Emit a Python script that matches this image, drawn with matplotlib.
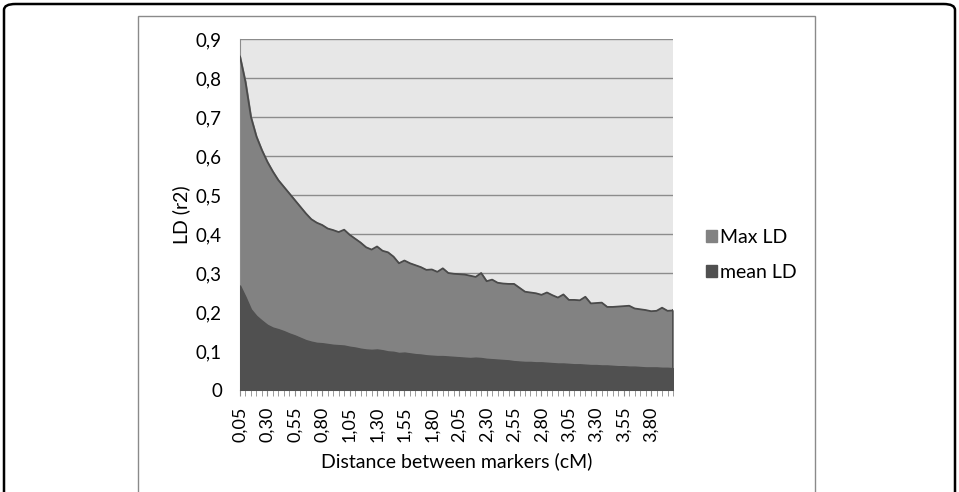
import numpy as np
import matplotlib.pyplot as plt
from matplotlib.patches import FancyBboxPatch, Rectangle

plt.rcParams['font.family'] = ['Lato', 'DejaVu Sans']

# distance between markers (cM), 80 categories
distance = np.arange(1, 81) * 0.05

max_ld = [0.855, 0.79, 0.70, 0.65, 0.615, 0.585, 0.56, 0.538, 0.521, 0.504,
          0.487, 0.47, 0.453, 0.438, 0.429, 0.423, 0.414, 0.41, 0.405, 0.411,
          0.398, 0.388, 0.378, 0.366, 0.36, 0.368, 0.357, 0.353, 0.342, 0.325,
          0.332, 0.325, 0.32, 0.315, 0.308, 0.309, 0.303, 0.312, 0.300, 0.298,
          0.297, 0.296, 0.293, 0.29, 0.30, 0.279, 0.283, 0.275, 0.273, 0.272,
          0.272, 0.262, 0.252, 0.25, 0.248, 0.244, 0.25, 0.243, 0.237, 0.245,
          0.231, 0.231, 0.23, 0.239, 0.222, 0.223, 0.224, 0.213, 0.213, 0.214,
          0.215, 0.216, 0.209, 0.207, 0.205, 0.202, 0.203, 0.211, 0.203, 0.204]

mean_ld = [0.268, 0.239, 0.207, 0.19, 0.178, 0.167, 0.16, 0.156, 0.151, 0.145,
           0.14, 0.134, 0.128, 0.124, 0.121, 0.12, 0.118, 0.116, 0.115, 0.114,
           0.111, 0.109, 0.106, 0.104, 0.103, 0.104, 0.102, 0.099, 0.098, 0.095,
           0.096, 0.094, 0.092, 0.091, 0.089, 0.088, 0.087, 0.087, 0.086, 0.085,
           0.084, 0.083, 0.082, 0.083, 0.082, 0.080, 0.079, 0.078, 0.077, 0.076,
           0.074, 0.073, 0.072, 0.072, 0.071, 0.071, 0.070, 0.069, 0.068, 0.068,
           0.067, 0.066, 0.066, 0.065, 0.064, 0.064, 0.063, 0.063, 0.062, 0.061,
           0.061, 0.060, 0.060, 0.059, 0.058, 0.058, 0.058, 0.057, 0.057, 0.056]

W, H = 959, 492
fig = plt.figure(figsize=(W / 100, H / 100), dpi=100)

# outer rounded frame and inner chart frame
fig.patches.append(FancyBboxPatch((4 / W, -0.2), (W - 8) / W, 1.2 - 4 / H,
                                  boxstyle="round,pad=0,rounding_size=0.012",
                                  transform=fig.transFigure, fill=False,
                                  edgecolor='black', linewidth=1.8))
fig.patches.append(Rectangle((138 / W, -0.1), (815 - 138) / W, 1.1 - 16 / H,
                             transform=fig.transFigure, fill=False,
                             edgecolor='#8a8a8a', linewidth=1.0))

ax = fig.add_axes([240 / W, (H - 390) / H, 433 / W, 351 / H])
ax.set_facecolor('#e7e7e7')

x = np.arange(len(distance))
ax.fill_between(x, max_ld, color='#828282', label='Max LD', zorder=2)
ax.plot(x, max_ld, color='#4a4a4a', linewidth=1.3, zorder=3)
ax.plot([x[-1], x[-1]], [0, max_ld[-1]], color='#4a4a4a', linewidth=1.3, zorder=3)
ax.fill_between(x, mean_ld, color='#505050', label='mean LD', zorder=4)

ax.set_xlim(0, len(x) - 1)
ax.set_ylim(0, 0.9)
ax.set_yticks(np.arange(0, 0.91, 0.1))
ax.set_yticklabels(['0' if v == 0 else f'{v:.1f}'.replace('.', ',')
                    for v in np.arange(0, 0.91, 0.1)], fontsize=13.5)
ax.yaxis.grid(True, color='#8c8c8c', linewidth=1.0, zorder=1)
ax.set_axisbelow(True)
ax.tick_params(axis='y', length=0, pad=13)

ax.set_xticks(x[::5])
ax.set_xticklabels([f'{d:.2f}'.replace('.', ',') for d in distance[::5]],
                   rotation=90, fontsize=13)
ax.set_xticks(x, minor=True)
ax.tick_params(axis='x', which='both', length=4, color='#8c8c8c', direction='out')
ax.tick_params(axis='x', which='major', pad=8)

for s in ['top', 'right']:
    ax.spines[s].set_visible(False)
for s in ['left', 'bottom']:
    ax.spines[s].set_color('#8c8c8c')

ax.set_xlabel('Distance between markers (cM)', fontsize=14, labelpad=7)
ax.set_ylabel('LD (r2)', fontsize=14, labelpad=4)

ax.legend(loc='center left', bbox_to_anchor=(1.035, 0.385), frameon=False,
          fontsize=14, handlelength=0.6, handleheight=0.6, handletextpad=0.15,
          labelspacing=0.95)

fig.savefig('out.png', dpi=100)
